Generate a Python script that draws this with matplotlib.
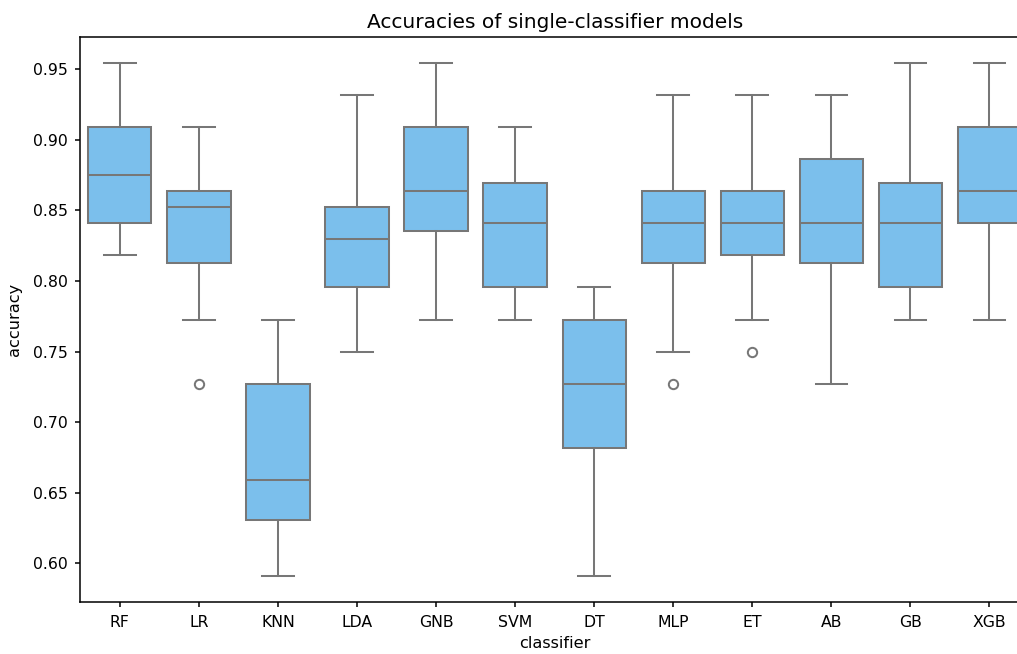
import matplotlib
matplotlib.use("Agg")
import matplotlib.pyplot as plt

classifiers = ["RF", "LR", "KNN", "LDA", "GNB", "SVM", "DT", "MLP", "ET", "AB", "GB", "XGB"]
whis_lo = [0.8182, 0.7727, 0.5909, 0.7500, 0.7727, 0.7727, 0.5909, 0.7500, 0.7727, 0.7273, 0.7727, 0.7727]
q1 = [0.8409, 0.8125, 0.6307, 0.7955, 0.8352, 0.7955, 0.6818, 0.8125, 0.8182, 0.8125, 0.7955, 0.8409]
median = [0.8750, 0.8523, 0.6591, 0.8295, 0.8636, 0.8409, 0.7273, 0.8409, 0.8409, 0.8409, 0.8409, 0.8636]
q3 = [0.9091, 0.8636, 0.7273, 0.8523, 0.9091, 0.8693, 0.7727, 0.8636, 0.8636, 0.8864, 0.8693, 0.9091]
whis_hi = [0.9545, 0.9091, 0.7727, 0.9318, 0.9545, 0.9091, 0.7955, 0.9318, 0.9318, 0.9318, 0.9545, 0.9545]
fliers = [[], [0.7273], [], [], [], [], [], [0.7273], [0.7500], [], [], []]

stats = []
for i, name in enumerate(classifiers):
    stats.append({"label": name, "whislo": whis_lo[i], "q1": q1[i], "med": median[i],
                  "q3": q3[i], "whishi": whis_hi[i], "fliers": fliers[i]})

fig = plt.figure(figsize=(10.17, 6.54), dpi=100)
ax = fig.add_axes([80.3 / 1017, 52.3 / 654, 948.7 / 1017, 564.4 / 654])

line_col = "#777777"
lw = 1.45
ax.bxp(stats, positions=range(len(classifiers)), widths=0.8, capwidths=0.4,
       patch_artist=True, showfliers=True,
       boxprops=dict(facecolor="#7bbfec", edgecolor=line_col, linewidth=lw),
       medianprops=dict(color=line_col, linewidth=lw),
       whiskerprops=dict(color=line_col, linewidth=lw),
       capprops=dict(color=line_col, linewidth=lw),
       flierprops=dict(marker="o", markerfacecolor="none", markeredgecolor=line_col,
                       markersize=6.7, markeredgewidth=lw))

ax.set_xlim(-0.5, len(classifiers) - 0.5)
ax.set_ylim(0.5727, 0.9727)
ax.set_xticks(range(len(classifiers)))
ax.set_xticklabels(classifiers)
for s in ax.spines.values():
    s.set_linewidth(1.1)
ax.tick_params(axis="both", labelsize=11.3, length=3.9, width=1.1)
ax.tick_params(axis="y", pad=5.3)
ax.tick_params(axis="x", pad=5.5)
ax.set_xlabel("classifier", fontsize=11.6, labelpad=4.5)
ax.set_ylabel("accuracy", fontsize=11.6, labelpad=7.5)
ax.set_title("Accuracies of single-classifier models", fontsize=14.5, pad=6.5)

fig.savefig("out.png", dpi=100)
